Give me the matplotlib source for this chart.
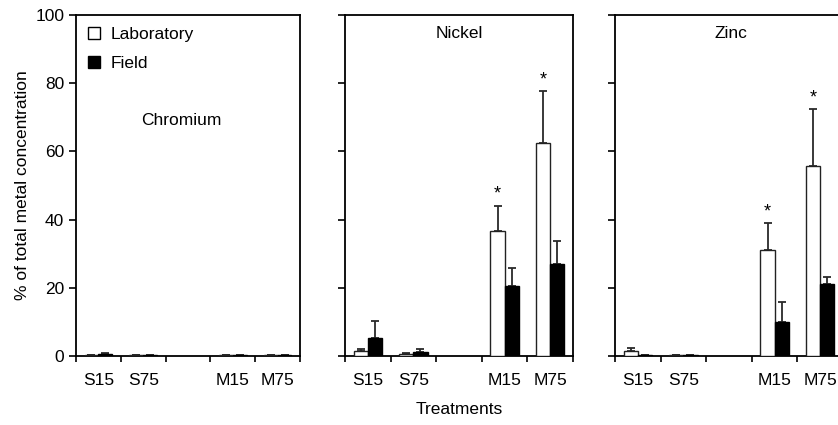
import numpy as np
import matplotlib.pyplot as plt
from matplotlib.patches import Patch

plt.rcParams['font.family'] = ['Liberation Sans', 'DejaVu Sans']
plt.rcParams['font.size'] = 12.5

# ------------------------------------------------------------------------------------------
# data (% of total metal concentration)
tick_labels = ["S15", "S75", "", "M15", "M75"]
positions = [0, 1, 3, 4]          # third slot is left empty

metals = ["Chromium", "Nickel", "Zinc"]

lab_mean = {
    "Chromium": [0.3, 0.3, 0.3, 0.3],
    "Nickel": [1.5, 0.5, 36.8, 62.6],
    "Zinc": [1.6, 0.3, 31.1, 55.7],
}
lab_err = {
    "Chromium": [0.1, 0.1, 0.1, 0.1],
    "Nickel": [0.5, 0.3, 7.3, 15.1],
    "Zinc": [0.8, 0.1, 7.8, 16.8],
}
field_mean = {
    "Chromium": [0.5, 0.3, 0.3, 0.3],
    "Nickel": [5.4, 1.3, 20.6, 27.1],
    "Zinc": [0.3, 0.3, 9.9, 21.0],
}
field_err = {
    "Chromium": [0.3, 0.1, 0.1, 0.1],
    "Nickel": [4.8, 0.8, 5.3, 6.5],
    "Zinc": [0.1, 0.1, 6.0, 2.3],
}
# asterisks above the laboratory bars
signif = {
    "Chromium": [],
    "Nickel": [3, 4],
    "Zinc": [3, 4],
}
title_pos = {"Chromium": (2.35, 69), "Nickel": (2.5, 94.5), "Zinc": (2.55, 94.5)}

# ------------------------------------------------------------------------------------------
fig = plt.figure(figsize=(8.38, 4.25), dpi=100)

# axes rectangles in figure fraction (left, bottom, width, height)
W, H = 838.0, 425.0
bottom = 1 - 356 / H
height = (356 - 15) / H
rects = [(76 / W, bottom, 224 / W, height),
         (345 / W, bottom, 228 / W, height),
         (615 / W, bottom, 228 / W, height)]

bw = 0.31
err_kw = dict(fmt='none', ecolor='#2a2a2a', elinewidth=1.3, capsize=3, capthick=1.3)

for ind, metal in enumerate(metals):
    ax = fig.add_axes(rects[ind])
    x = np.array(positions) + 0.5

    ax.bar(x - bw / 2, lab_mean[metal], width=bw, color='white', edgecolor='#222222',
           linewidth=1.0, zorder=3)
    ax.bar(x + bw / 2, field_mean[metal], width=bw, color='black', edgecolor='black',
           linewidth=1.0, zorder=3)

    zeros = np.zeros(len(x))
    ax.errorbar(x - bw / 2, lab_mean[metal], yerr=[zeros, lab_err[metal]], zorder=2, **err_kw)
    ax.errorbar(x + bw / 2, field_mean[metal], yerr=[zeros, field_err[metal]], zorder=2, **err_kw)

    for p in signif[metal]:
        i = positions.index(p)
        top = lab_mean[metal][i] + lab_err[metal][i]
        ax.text(p + 0.5 - bw / 2, top + 0.8, "*", ha='center', va='bottom', fontsize=13)

    tx, ty = title_pos[metal]
    ax.text(tx, ty, metal, ha='center', va='center')

    ax.set_xlim(0, 5)
    ax.set_ylim(0, 100)

    # ticks at category boundaries, labels at centres
    ax.set_xticks(np.arange(0, 6))
    ax.set_xticklabels([])
    ax.set_xticks(np.arange(5) + 0.5, minor=True)
    ax.set_xticklabels(tick_labels, minor=True)
    ax.tick_params(axis='x', which='major', direction='out', length=4, width=1.2)
    ax.tick_params(axis='x', which='minor', length=0, pad=12.5)

    ax.set_yticks(np.arange(0, 101, 20))
    ax.tick_params(axis='y', direction='out', length=5, width=1.2)
    if ind > 0:
        ax.set_yticklabels([])

    for sp in ax.spines.values():
        sp.set_linewidth(1.3)

    if ind == 0:
        ax.set_ylabel("% of total metal concentration", labelpad=3.5)
        handles = [Patch(facecolor='white', edgecolor='black', label='Laboratory'),
                   Patch(facecolor='black', edgecolor='black', label='Field')]
        ax.legend(handles=handles, loc='upper left', frameon=False,
                  handlelength=0.7, handleheight=0.7, handletextpad=0.6,
                  labelspacing=0.8, borderaxespad=0.3)
    if ind == 1:
        ax.set_xlabel("Treatments", labelpad=10)

plt.savefig("out.png", dpi=100)
